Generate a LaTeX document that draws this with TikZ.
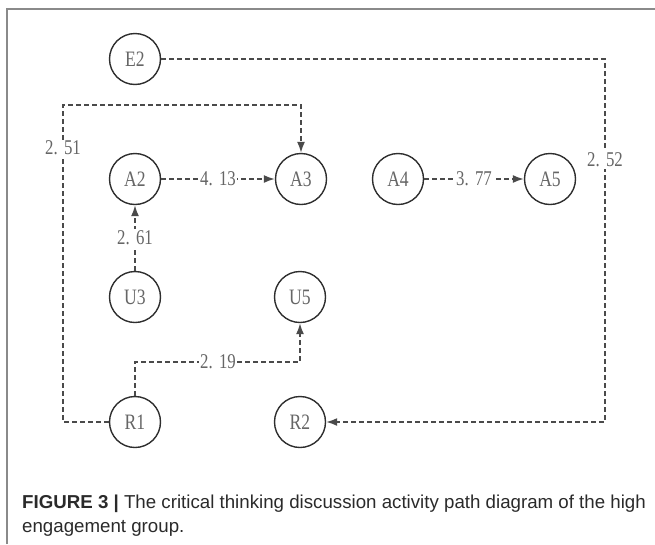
\documentclass[tikz,border=0pt]{standalone}
\usepackage{fontspec}
\setmainfont{Liberation Serif}
\newfontfamily\diagfont{Liberation Serif}[FakeStretch=0.8]
\newfontfamily\capfont{Liberation Sans}
\usetikzlibrary{arrows.meta}
\definecolor{framegray}{HTML}{8A8A8A}
\definecolor{linegray}{HTML}{4A4A4A}
\definecolor{textgray}{HTML}{666666}
\definecolor{ringcol}{HTML}{2E2E2E}
\definecolor{captext}{HTML}{2A2A2A}
% weight label: digits, a period and a wide gap
\newcommand\wt[2]{#1.\kern0.3em#2}
\tikzset{
  state/.style={circle, draw=ringcol, line width=1.4pt, minimum size=51pt,
    inner sep=0pt, text=textgray, font=\diagfont\fontsize{22}{22}\selectfont},
  link/.style={draw=linegray, line width=1.6pt, dash pattern=on 5pt off 3pt},
  flow/.style={link, -{Latex[length=11pt,width=8pt]}},
  wlabel/.style={fill=white, inner sep=1.5pt, text=textgray,
    font=\diagfont\fontsize{21}{21}\selectfont},
  captionline/.style={anchor=base west, inner sep=0pt, text=captext,
    font=\capfont\fontsize{18.7}{18.7}\selectfont}
}
\begin{document}
\begin{tikzpicture}[x=1pt, y=-1pt]
\useasboundingbox (0,0) rectangle (655,544);

% figure frame (top and left rules)
\draw[framegray, line width=1.5pt] (7,544) -- (7,9) -- (655,9);

% states
\node[state] (E2) at (135,59)  {E2};
\node[state] (A2) at (135,179) {A2};
\node[state] (A3) at (301,179) {A3};
\node[state] (A4) at (398,179) {A4};
\node[state] (A5) at (550,179) {A5};
\node[state] (U3) at (135,297) {U3};
\node[state] (U5) at (300,297) {U5};
\node[state] (R1) at (135,422) {R1};
\node[state] (R2) at (300,422) {R2};

% bend points of the routed connectors
\coordinate (tl)  at (63,105);
\coordinate (br)  at (605,422);
\coordinate (b19) at (218,362);

% transitions
\draw[flow] (A2) -- node[wlabel]{\wt{4}{13}} (A3);
\draw[flow] (A4) -- node[wlabel]{\wt{3}{77}} (A5);
\draw[flow] (U3) -- node[wlabel]{\wt{2}{61}} (A2);
\draw[flow] (R1.north) |- (b19) node[wlabel]{\wt{2}{19}} -| (U5.south);
\draw[flow] (R1.west) -| node[wlabel, pos=0.932]{\wt{2}{51}} (tl) -| (A3.north);
\draw[flow] (E2.east) -| node[wlabel, pos=0.639]{\wt{2}{52}} (br) -- (R2.east);

% caption
\node[captionline] (cap1) at (22,508)
  {\textbf{FIGURE 3 |} The critical thinking discussion activity path diagram of the high};
\node[captionline] (cap2) at (22,532) {engagement group.};
\end{tikzpicture}
\end{document}
